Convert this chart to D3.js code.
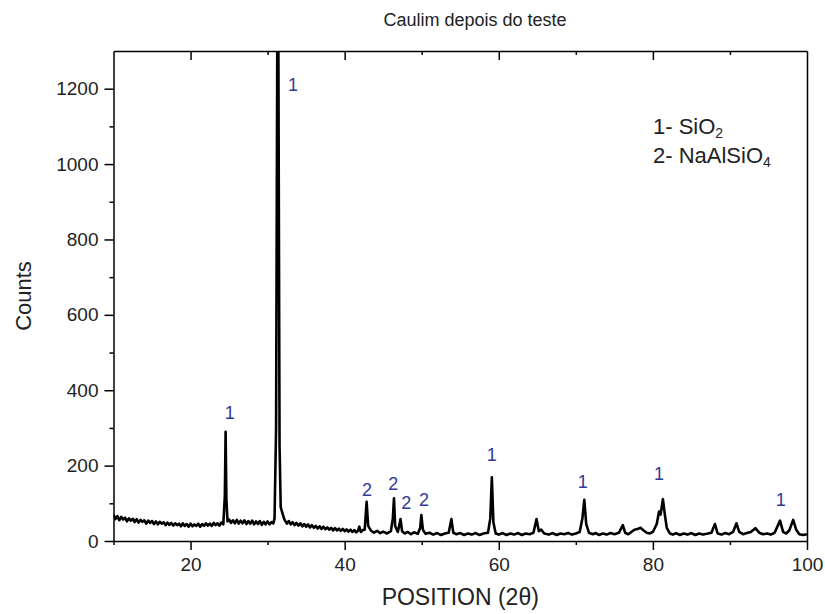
<!DOCTYPE html>
<html lang="pt">
  <head>
    <meta charset="UTF-8" />
    <title>Caulim depois do teste</title>
    <script src="https://d3js.org/d3.v7.min.js"></script>
    <style>
      body
      {
        margin: 0;
        background: #ffffff;
        font-family: Arial, "Liberation Sans", sans-serif;
      }

      svg text
      {
        fill: #222;
      }

      .axis path,
      .axis line
      {
        stroke: #000;
        stroke-width: 1.5;
      }

      .axis text
      {
        font-size: 19px;
        fill: #222;
      }

      .peak-label
      {
        font-size: 18px;
        fill: #2f3a96 !important;
      }
    </style>
  </head>

  <body>
    <svg id="chart"></svg>

    <script>
      const width = 825;
      const height = 614;
      const margin = { top: 51, right: 18, bottom: 73, left: 113.5 };

      // [2theta, counts]
      const pattern = [
        [10.0, 70], [10.25, 58], [10.5, 66], [10.75, 55], [11.0, 64], [11.25, 57],
        [11.5, 62], [11.75, 52], [12.0, 60], [12.25, 54], [12.5, 59], [12.75, 50],
        [13.0, 58], [13.25, 49], [13.5, 56], [13.75, 51], [14.0, 55], [14.25, 46],
        [14.5, 54], [14.75, 48], [15.0, 53], [15.25, 45], [15.5, 52], [15.75, 44],
        [16.0, 51], [16.25, 46], [16.5, 50], [16.75, 42], [17.0, 49], [17.25, 43],
        [17.5, 48], [17.75, 41], [18.0, 47], [18.25, 42], [18.5, 46], [18.75, 39],
        [19.0, 47], [19.25, 40], [19.5, 45], [19.75, 38], [20.0, 46], [20.25, 39],
        [20.5, 44], [20.75, 40], [21.0, 46], [21.25, 38], [21.5, 45], [21.75, 40],
        [22.0, 47], [22.25, 41], [22.5, 46], [22.75, 40], [23.0, 48], [23.25, 42],
        [23.5, 47], [23.75, 41], [24.0, 49], [24.25, 44],
        [24.45, 120], [24.55, 290], [24.65, 110], [24.8, 52], [25.0, 57],
        [25.25, 48], [25.5, 55], [25.75, 47], [26.0, 56], [26.25, 46], [26.5, 54],
        [26.75, 47], [27.0, 55], [27.25, 45], [27.5, 53], [27.75, 46], [28.0, 54],
        [28.25, 44], [28.5, 52], [28.75, 45], [29.0, 53], [29.25, 43], [29.5, 51],
        [29.75, 44], [30.0, 52], [30.25, 44], [30.5, 50], [30.75, 47], [30.9, 60],
        [31.1, 300], [31.25, 1300], [31.4, 1300], [31.55, 250], [31.7, 90],
        [31.9, 75], [32.2, 56], [32.5, 46], [32.75, 53], [33.0, 44], [33.25, 50],
        [33.5, 42], [33.75, 48], [34.0, 41], [34.25, 47], [34.5, 39], [34.75, 45],
        [35.0, 38], [35.25, 44], [35.5, 36], [35.75, 42], [36.0, 35], [36.25, 40],
        [36.5, 33], [36.75, 39], [37.0, 32], [37.25, 38], [37.5, 31], [37.75, 36],
        [38.0, 30], [38.25, 35], [38.5, 28], [38.75, 34], [39.0, 28], [39.25, 33],
        [39.5, 27], [39.75, 32], [40.0, 26], [40.25, 31], [40.5, 25], [40.75, 30],
        [41.0, 24], [41.25, 29], [41.5, 23], [41.75, 28], [41.9, 38], [42.1, 24],
        [42.35, 29], [42.6, 30],
        [42.85, 104], [43.05, 40], [43.4, 28], [43.8, 22], [44.2, 27], [44.6, 21],
        [45.0, 25], [45.5, 20], [46.0, 26], [46.25, 60], [46.4, 113], [46.55, 40],
        [46.9, 24], [47.25, 58], [47.45, 26], [47.8, 20], [48.2, 24], [48.6, 18],
        [49.0, 23], [49.5, 19], [49.8, 35], [49.95, 69], [50.15, 30], [50.5, 19],
        [51.0, 22], [51.5, 17], [52.0, 21], [52.5, 16], [53.0, 20], [53.5, 22],
        [53.85, 58], [54.1, 22], [54.5, 18], [55.0, 21], [55.5, 16], [56.0, 20],
        [56.5, 17], [57.0, 21], [57.5, 16], [58.0, 20], [58.6, 22], [58.9, 60],
        [59.1, 169], [59.3, 50], [59.6, 20], [60.0, 17], [60.5, 21], [61.0, 16],
        [61.5, 20], [62.0, 17], [62.5, 21], [63.0, 16], [63.5, 20], [64.0, 18],
        [64.5, 22], [64.9, 58], [65.2, 26], [65.5, 30], [65.9, 20], [66.5, 17],
        [67.0, 21], [67.5, 16], [68.0, 20], [68.5, 18], [69.0, 21], [69.5, 17],
        [70.0, 20], [70.5, 24], [70.85, 60], [71.1, 109], [71.35, 45], [71.7, 22],
        [72.2, 18], [72.6, 21], [73.0, 16], [73.5, 20], [74.0, 17], [74.5, 21],
        [75.0, 18], [75.6, 22], [76.1, 42], [76.4, 22], [76.8, 18], [77.2, 24],
        [77.6, 30], [78.0, 32], [78.4, 35], [78.8, 28], [79.2, 22], [79.6, 20],
        [80.0, 24], [80.5, 45], [80.8, 78], [81.0, 70], [81.3, 111], [81.55, 70],
        [81.8, 35], [82.2, 20], [82.6, 17], [83.0, 21], [83.5, 16], [84.0, 20],
        [84.5, 17], [85.0, 21], [85.5, 16], [86.0, 20], [86.5, 17], [87.0, 19],
        [87.6, 22], [88.05, 45], [88.4, 20], [88.9, 17], [89.4, 21], [89.9, 18],
        [90.4, 24], [90.85, 47], [91.2, 24], [91.7, 18], [92.2, 21], [92.7, 24],
        [93.3, 34], [93.8, 22], [94.3, 18], [94.8, 20], [95.3, 17], [95.8, 22],
        [96.5, 54], [96.9, 24], [97.3, 20], [97.7, 28], [98.2, 56], [98.6, 30],
        [99.0, 18], [99.5, 16], [100.0, 18]
      ];

      // [2theta, counts, phase] where each phase number is written
      const phaseLabels = [
        [25.1, 340, "1"], [33.3, 1210, "1"], [42.9, 135, "2"], [46.3, 151, "2"],
        [48.0, 101, "2"], [50.3, 109, "2"], [59.1, 228, "1"], [70.9, 157, "1"],
        [80.8, 178, "1"], [96.6, 109, "1"]
      ];

      const legendItems = [
        ["1- SiO", "2"],
        ["2- NaAlSiO", "4"]
      ];

      const xMajor = [20, 40, 60, 80, 100];
      const xMinor = [10, 30, 50, 70, 90];
      const yMajor = [0, 200, 400, 600, 800, 1000, 1200];
      const yMinor = [100, 300, 500, 700, 900, 1100, 1300];

      const x = d3.scaleLinear().domain([10, 100]).range([margin.left, width - margin.right]);
      const y = d3.scaleLinear().domain([0, 1300]).range([height - margin.bottom, margin.top]);

      const svg = d3.select("#chart").attr("width", width).attr("height", height);

      svg.append("clipPath")
        .attr("id", "plot-clip")
        .append("rect")
        .attr("x", x(10))
        .attr("y", y(1300))
        .attr("width", x(100) - x(10))
        .attr("height", y(0) - y(1300));

      svg.append("path")
        .datum(pattern)
        .attr("clip-path", "url(#plot-clip)")
        .attr("fill", "none")
        .attr("stroke", "#000")
        .attr("stroke-width", 2.6)
        .attr("stroke-linejoin", "round")
        .attr("d", d3.line().x((d) => x(d[0])).y((d) => y(d[1])));

      // bottom axis, major + minor
      svg.append("g")
        .attr("class", "axis")
        .attr("transform", `translate(0,${y(0)})`)
        .call(d3.axisBottom(x).tickValues(xMajor).tickSize(9).tickPadding(8).tickSizeOuter(0));
      svg.append("g")
        .attr("class", "axis")
        .attr("transform", `translate(0,${y(0)})`)
        .call(d3.axisBottom(x).tickValues(xMinor).tickSize(4).tickFormat("").tickSizeOuter(0))
        .select(".domain").remove();

      // top axis, inward ticks
      svg.append("g")
        .attr("class", "axis")
        .attr("transform", `translate(0,${y(1300)})`)
        .call(d3.axisTop(x).tickValues(xMajor.slice(0, 4)).tickSize(-9).tickFormat("").tickSizeOuter(0));
      svg.append("g")
        .attr("class", "axis")
        .attr("transform", `translate(0,${y(1300)})`)
        .call(d3.axisTop(x).tickValues(xMinor.slice(1)).tickSize(-4).tickFormat("").tickSizeOuter(0))
        .select(".domain").remove();

      // left axis
      svg.append("g")
        .attr("class", "axis")
        .attr("transform", `translate(${x(10)},0)`)
        .call(d3.axisLeft(y).tickValues(yMajor).tickSize(9).tickPadding(6)
          .tickFormat(d3.format("d")).tickSizeOuter(0));
      svg.append("g")
        .attr("class", "axis")
        .attr("transform", `translate(${x(10)},0)`)
        .call(d3.axisLeft(y).tickValues(yMinor.slice(0, 6)).tickSize(4).tickFormat("").tickSizeOuter(0))
        .select(".domain").remove();

      // right axis, plain line
      svg.append("g")
        .attr("class", "axis")
        .attr("transform", `translate(${x(100)},0)`)
        .call(d3.axisRight(y).tickValues([]).tickSizeOuter(0));

      svg.selectAll(".peak-label")
        .data(phaseLabels)
        .join("text")
        .attr("class", "peak-label")
        .attr("x", (d) => x(d[0]))
        .attr("y", (d) => y(d[1]))
        .attr("dy", "0.35em")
        .attr("text-anchor", "middle")
        .text((d) => d[2]);

      const legend = svg.append("g").attr("transform", "translate(653,134)");
      legendItems.forEach((item, i) => {
        const t = legend.append("text")
          .attr("y", i * 29)
          .attr("font-size", 22);
        t.append("tspan").text(item[0]);
        t.append("tspan")
          .attr("dy", 4)
          .attr("font-size", 14)
          .text(item[1]);
      });

      svg.append("text")
        .attr("x", 475)
        .attr("y", 26)
        .attr("text-anchor", "middle")
        .attr("font-size", 18)
        .text("Caulim depois do teste");

      svg.append("text")
        .attr("x", (x(10) + x(100)) / 2)
        .attr("y", 605)
        .attr("text-anchor", "middle")
        .attr("font-size", 23)
        .text("POSITION (2θ)");

      svg.append("text")
        .attr("transform", `translate(31,${(y(0) + y(1300)) / 2}) rotate(-90)`)
        .attr("text-anchor", "middle")
        .attr("font-size", 22)
        .text("Counts");
    </script>
  </body>
</html>
